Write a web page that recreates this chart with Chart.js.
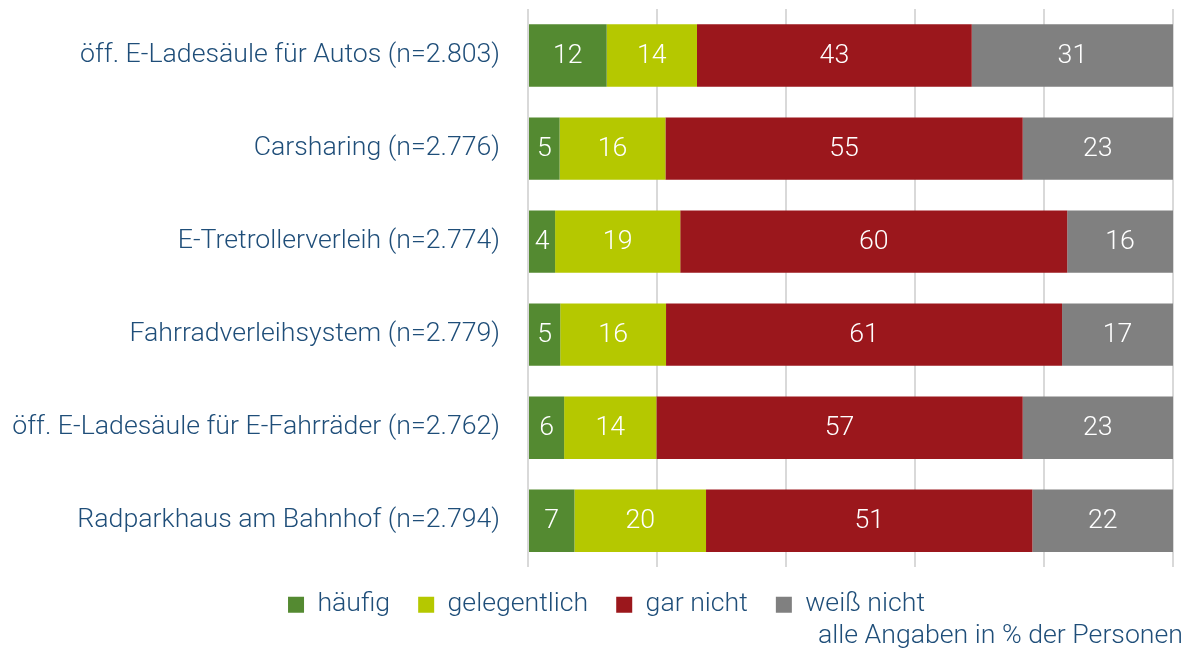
<!DOCTYPE html>
<html>
<head>
<meta charset="utf-8">
<script src="https://cdn.jsdelivr.net/npm/chart.js@4"></script>
<style>
  html, body { margin: 0; padding: 0; background: #fff; }
  #wrap { width: 1194px; height: 654px; }
</style>
</head>
<body>
<div id="wrap"><canvas id="myChart"></canvas></div>
<script>
  const categories = [
    'öff. E-Ladesäule für Autos (n=2.803)',
    'Carsharing (n=2.776)',
    'E-Tretrollerverleih (n=2.774)',
    'Fahrradverleihsystem (n=2.779)',
    'öff. E-Ladesäule für E-Fahrräder (n=2.762)',
    'Radparkhaus am Bahnhof (n=2.794)'
  ];
  const haeufig = [12.2, 4.9, 4.2, 5.0, 5.6, 7.2];
  const gelegentlich = [14.0, 16.4, 19.4, 16.4, 14.3, 20.4];
  const garNicht = [42.6, 55.4, 60.0, 61.4, 56.8, 50.6];
  const weissNicht = [31.2, 23.3, 16.4, 17.2, 23.3, 21.8];
  const xTicks = [0, 20, 40, 60, 80, 100];
  const footnote = 'alle Angaben in % der Personen';

  const FONT = 'Roboto';
  const SIZE = 26.7;
  const TEXT = '#1f4e79';

  const ctx = document.getElementById('myChart').getContext('2d');

  // white numbers in the middle of every segment
  const barLabels = {
    id: 'barLabels',
    afterDatasetsDraw(chart) {
      const c = chart.ctx;
      c.save();
      c.font = '300 ' + SIZE + 'px ' + FONT;
      c.fillStyle = '#fff';
      c.textAlign = 'center';
      c.textBaseline = 'middle';
      chart.data.datasets.forEach((ds, i) => {
        chart.getDatasetMeta(i).data.forEach((bar, j) => {
          const p = bar.getProps(['x', 'y', 'base']);
          c.fillText(String(Math.round(ds.data[j])), (p.x + p.base) / 2, p.y + 1);
        });
      });
      c.restore();
    }
  };

  // legend sits a bit right of the page centre, footnote under it
  const footnoteText = {
    id: 'footnoteText',
    afterLayout(chart) {
      chart.legend.left += 20;
      chart.legend.right += 20;
    },
    afterDraw(chart) {
      const c = chart.ctx;
      c.save();
      c.font = '300 ' + SIZE + 'px ' + FONT;
      c.fillStyle = TEXT;
      c.textAlign = 'right';
      c.textBaseline = 'middle';
      c.fillText(footnote, chart.width - 11, 636);
      c.restore();
    }
  };

  new Chart(ctx, {
    type: 'bar',
    data: {
      labels: categories,
      datasets: [
        { label: 'häufig', data: haeufig, backgroundColor: '#548a31' },
        { label: 'gelegentlich', data: gelegentlich, backgroundColor: '#b5c800' },
        { label: 'gar nicht', data: garNicht, backgroundColor: '#9b171c' },
        { label: 'weiß nicht', data: weissNicht, backgroundColor: '#808080' }
      ]
    },
    options: {
      indexAxis: 'y',
      responsive: true,
      maintainAspectRatio: false,
      animation: false,
      layout: { padding: { left: 0, right: 21, top: 9, bottom: 22 } },
      datasets: {
        bar: { categoryPercentage: 1, barPercentage: 0.67, borderWidth: 0 }
      },
      plugins: {
        legend: {
          position: 'bottom',
          labels: {
            boxWidth: 16,
            boxHeight: 16,
            padding: 28,
            color: TEXT,
            font: { family: FONT, size: SIZE, weight: 300 }
          }
        },
        tooltip: { enabled: false }
      },
      scales: {
        x: {
          stacked: true,
          min: 0,
          max: 100,
          afterBuildTicks: (s) => { s.ticks = xTicks.map(v => ({ value: v })); },
          afterFit: (s) => { s.height = -4; },
          ticks: { display: false },
          border: { display: false },
          grid: { color: '#d9d9d9', lineWidth: 2, drawTicks: false }
        },
        y: {
          stacked: true,
          afterFit: (s) => { s.width = 528; s.paddingTop = 0; s.paddingBottom = 0; },
          border: { display: false },
          grid: { display: false },
          ticks: {
            padding: 20,
            color: TEXT,
            font: { family: FONT, size: SIZE, weight: 300 }
          }
        }
      }
    },
    plugins: [barLabels, footnoteText]
  });
</script>
</body>
</html>
